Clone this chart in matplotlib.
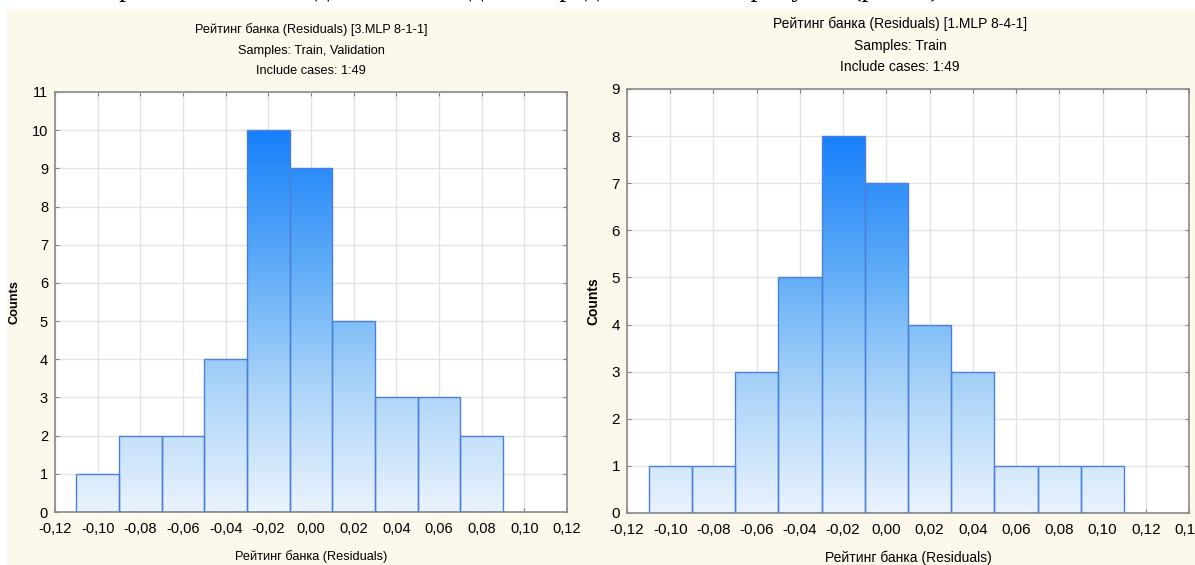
import numpy as np
import matplotlib
matplotlib.use("Agg")
import matplotlib.pyplot as plt
from matplotlib.colors import LinearSegmentedColormap

# ---- data ----
bin_width = 0.02
left_centers = [-0.10, -0.08, -0.06, -0.04, -0.02, 0.00, 0.02, 0.04, 0.06, 0.08]
left_counts = [1, 2, 2, 4, 10, 9, 5, 3, 3, 2]
right_centers = [-0.10, -0.08, -0.06, -0.04, -0.02, 0.00, 0.02, 0.04, 0.06, 0.08, 0.10]
right_counts = [1, 1, 3, 5, 8, 7, 4, 3, 1, 1, 1]

left_title = ["Рейтинг банка (Residuals) [3.MLP 8-1-1]", "Samples: Train, Validation", "Include cases: 1:49"]
right_title = ["Рейтинг банка (Residuals) [1.MLP 8-4-1]", "Samples: Train", "Include cases: 1:49"]
xlabel = "Рейтинг банка (Residuals)"
ylabel = "Counts"
left_xticks = [-0.12, -0.10, -0.08, -0.06, -0.04, -0.02, 0.00, 0.02, 0.04, 0.06, 0.08, 0.10, 0.12]
right_xticks = left_xticks + [0.14]

plt.rcParams['font.family'] = ['Liberation Sans', 'DejaVu Sans']

BG = '#fdf8ec'
cmap = LinearSegmentedColormap.from_list('g', ['#eaf3fd', '#a9d3f9', '#5aa9f7', '#1880fa'])

fig = plt.figure(figsize=(11.95, 5.65), dpi=100)
fig.patch.set_facecolor('white')
# cream panel background
bgax = fig.add_axes([7/1195, 0, 1 - 7/1195, 1 - 9/565])
bgax.set_facecolor(BG)
bgax.set_xticks([]); bgax.set_yticks([])
for s in bgax.spines.values():
    s.set_visible(False)
bgax.set_zorder(-5)

# cut-off document text at the top (only descenders visible)
fig.text(40/1195, 1 + 4/565, "Гистограммы остатков для обеих моделей представлены на рисунке (рис. 4)",
         family=['Liberation Serif', 'DejaVu Serif'], fontsize=20, va='baseline', ha='left', color='black')


def panel(rect, centers, counts, xticks, xlim, ylim, titles, title_ys, cx, fs, tfs):
    ax = fig.add_axes(rect)
    ax.set_facecolor('white')
    bars = ax.bar(centers, counts, width=bin_width, facecolor='none', edgecolor='#4a80dc',
                  linewidth=1.0, zorder=3)
    vmax = max(counts)
    for b, c in zip(bars, counts):
        x0 = b.get_x()
        grad = np.linspace(0, c, 200).reshape(-1, 1)
        im = ax.imshow(grad, extent=[x0, x0 + bin_width, 0, c], origin='lower', aspect='auto',
                       cmap=cmap, vmin=0, vmax=vmax, zorder=2, interpolation='bilinear')
        im.set_clip_path(b)
    ax.set_xlim(*xlim)
    ax.set_ylim(*ylim)
    ax.set_xticks(xticks)
    ax.set_xticklabels([f"{t:.2f}".replace('.', ',').replace('-0,00', '0,00') for t in xticks])
    ax.set_yticks(range(0, ylim[1] + 1))
    ax.grid(True, color='#e3e3e3', linewidth=1.0, zorder=0)
    ax.set_axisbelow(True)
    ax.tick_params(direction='in', length=3, color='#808080', top=True, right=True,
                   labelsize=fs)
    ax.tick_params(axis='x', pad=7)
    ax.tick_params(axis='y', pad=5)
    for s in ax.spines.values():
        s.set_color('#8a8a8a')
        s.set_linewidth(1.2)
    ax.set_xlabel(xlabel, fontsize=tfs, labelpad=10)
    ax.set_ylabel(ylabel, fontsize=tfs, fontweight='bold', labelpad=8)
    for t, y in zip(titles, title_ys):
        fig.text(cx / 1195, 1 - y / 565, t, ha='center', va='center', fontsize=tfs)
    return ax


panel([55/1195, 1 - 512/565, (567 - 55)/1195, (512 - 92)/565],
      left_centers, left_counts, left_xticks, (-0.12, 0.12), (0, 11),
      left_title, [30, 51, 71], 311, 10.5, 9.2)
panel([627/1195, 1 - 513/565, (1189 - 627)/1195, (513 - 89)/565],
      right_centers, right_counts, right_xticks, (-0.12, 0.14), (0, 9),
      right_title, [24, 46, 67], 900, 11, 10)

fig.savefig('out.png', dpi=100, facecolor=fig.get_facecolor())
